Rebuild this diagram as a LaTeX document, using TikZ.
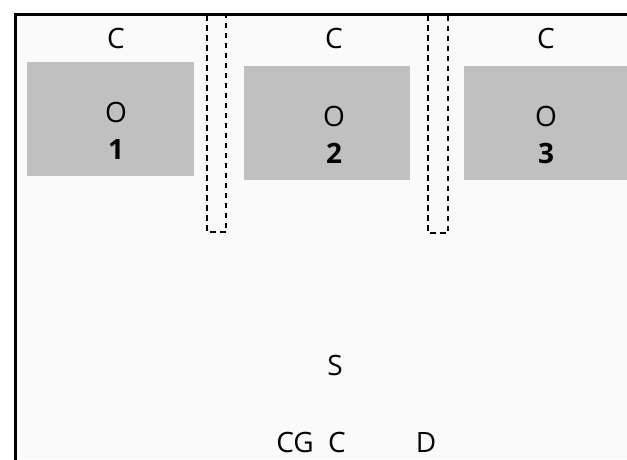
\documentclass[tikz,border=0pt]{standalone}
\usepackage{fontspec}
\setmainfont{Open Sans}
\definecolor{boxgray}{HTML}{C0C0C0}
\definecolor{bggray}{HTML}{FAFAFA}
\begin{document}
\begin{tikzpicture}[x=1pt,y=-1pt,
  lbl/.style={font=\fontsize{28}{28}\selectfont, inner sep=0pt, anchor=base},
  num/.style={font=\fontsize{28}{28}\selectfont\bfseries, inner sep=0pt, anchor=base},
  graybox/.style={fill=boxgray, draw=none},
  dashbox/.style={draw=black, line width=2.5pt, dash pattern=on 5.5pt off 4.5pt}]
\useasboundingbox (0,0) rectangle (627,459);
\clip (0,0) rectangle (627,459);
\fill[white] (0,0) rectangle (627,459);
\fill[bggray] (15,14) rectangle (627,459);
\draw[line width=3pt] (15,470) -- (15,14) -- (640,14);
% gray boxes
\path[graybox] (27,62) rectangle (194,176);
\path[graybox] (244,66) rectangle (410,180);
\path[graybox] (464,66) rectangle (640,180);
% dashed boxes
\draw[dashbox] (207,15) rectangle (226,232);
\draw[dashbox] (428,15) rectangle (448,233);
% labels
\node[lbl] (c1) at (116,48) {C};
\node[lbl] (c2) at (334,48) {C};
\node[lbl] (c3) at (546,48) {C};
\node[lbl] (o1) at (116,122) {O};
\node[num] (n1) at (116,159) {1};
\node[lbl] (o2) at (334,126) {O};
\node[num] (n2) at (334,163) {2};
\node[lbl] (o3) at (546,126) {O};
\node[num] (n3) at (546,163) {3};
\node[lbl] (s) at (335,375) {S};
\node[lbl] (cg) at (295,452) {CG};
\node[lbl] (cb) at (337,452) {C};
\node[lbl] (d) at (426,452) {D};
\end{tikzpicture}
\end{document}
